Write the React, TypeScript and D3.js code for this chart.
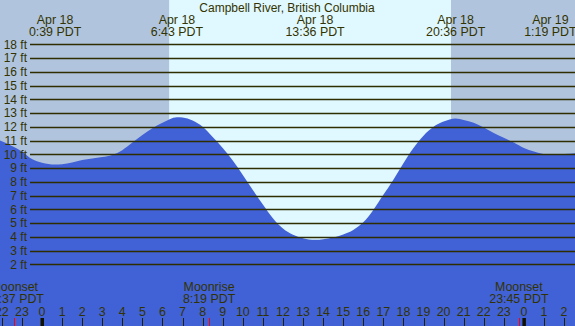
import React from "react";
import * as d3 from "d3";

const W = 575;
const H = 326;

// hours from Apr 18 00:00 PDT
const tideHours = [-2.1, -1.5, -1, -0.5, 0, 0.65, 1, 1.5, 2, 2.5, 3, 3.5, 4, 4.5, 5, 5.5, 6, 6.72, 7, 7.5, 8, 8.5, 9, 9.5, 10, 10.5, 11, 11.5, 12, 12.5, 13, 13.6, 14, 14.5, 15, 15.5, 16, 16.5, 17, 17.5, 18, 18.5, 19, 19.5, 20, 20.6, 21, 21.5, 22, 22.5, 23, 23.5, 24, 24.5, 25.32, 26, 26.7];
const tideFeet = [11.0, 10.6, 10.2, 9.65, 9.38, 9.25, 9.28, 9.4, 9.58, 9.7, 9.8, 9.95, 10.3, 10.85, 11.4, 11.9, 12.3, 12.7, 12.68, 12.45, 12.0, 11.25, 10.45, 9.55, 8.5, 7.4, 6.35, 5.35, 4.6, 4.15, 3.9, 3.78, 3.82, 3.95, 4.17, 4.5, 5.05, 5.95, 7.05, 8.15, 9.35, 10.45, 11.35, 12.0, 12.38, 12.6, 12.5, 12.3, 11.95, 11.55, 11.2, 10.85, 10.45, 10.2, 9.97, 10.02, 10.1];

const feetTicks = [2, 3, 4, 5, 6, 7, 8, 9, 10, 11, 12, 13, 14, 15, 16, 17, 18];
const hourTicks = d3.range(-2, 27);

const sunrise = 6.33;
const sunset = 20.37;

const topLabelHours = [0.65, 6.72, 13.6, 20.6, 25.32];
const topLabelDays = ["Apr 18", "Apr 18", "Apr 18", "Apr 18", "Apr 19"];
const topLabelTimes = ["0:39 PDT", "6:43 PDT", "13:36 PDT", "20:36 PDT", "1:19 PDT"];

const moonHours = [-1.38, 8.32, 23.75];
const moonNames = ["Moonset", "Moonrise", "Moonset"];
const moonTimes = ["22:37 PDT", "8:19 PDT", "23:45 PDT"];

const title = "Campbell River, British Columbia";

const TEXT = "#333300";
const FONT = "'Liberation Sans', Arial, sans-serif";

export default function App() {
  const x = d3.scaleLinear().domain([0, 24]).range([42, 523.9]);
  const y = d3.scaleLinear().domain([2, 18]).range([264.3, 44.3]);
  const pts: [number, number][] = tideHours.map((h, i) => [h, tideFeet[i]]);
  const area = d3
    .area<[number, number]>()
    .x((d) => x(d[0]))
    .y0(H)
    .y1((d) => y(d[1]))
    .curve(d3.curveMonotoneX);

  const hourLabel = (h: number) => String(((h % 24) + 24) % 24);

  return (
    <svg
      width={W}
      height={H}
      style={{ position: "absolute", left: 0, top: 0, display: "block" }}
      fontFamily={FONT}
    >
      <rect x={0} y={0} width={W} height={H} fill="#b0c4de" />
      <rect x={x(sunrise)} y={0} width={x(sunset) - x(sunrise)} height={H} fill="#e0f8ff" />
      <path d={area(pts) || ""} fill="#4161d6" />
      {feetTicks.map((f) => (
        <g key={f}>
          <line x1={30} x2={W} y1={Math.round(y(f)) + 0.5} y2={Math.round(y(f)) + 0.5} stroke="#2e2e00" strokeWidth={1.3} />
          <text x={27} y={y(f) + 4.3} textAnchor="end" fontSize={12} fill={TEXT}>
            {f} ft
          </text>
        </g>
      ))}
      <text x={287} y={11.7} textAnchor="middle" fontSize={12} fill={TEXT}>
        {title}
      </text>
      {topLabelHours.map((h, i) => (
        <g key={i}>
          <text x={x(h)} y={23.5} textAnchor="middle" fontSize={12.4} fill={TEXT}>
            {topLabelDays[i]}
          </text>
          <text x={x(h)} y={35.5} textAnchor="middle" fontSize={12.4} fill={TEXT}>
            {topLabelTimes[i]}
          </text>
        </g>
      ))}
      {moonHours.map((h, i) => (
        <g key={i}>
          <text x={x(h)} y={291} textAnchor="middle" fontSize={12.4} fill={TEXT}>
            {moonNames[i]}
          </text>
          <text x={x(h)} y={303.3} textAnchor="middle" fontSize={12.4} fill={TEXT}>
            {moonTimes[i]}
          </text>
          <line x1={Math.round(x(h)) + 0.5} x2={Math.round(x(h)) + 0.5} y1={318} y2={H} stroke="#ff0000" strokeWidth={1} />
        </g>
      ))}
      {hourTicks.map((h) => (
        <g key={h}>
          <text x={x(h)} y={316} textAnchor="middle" fontSize={12.4} fill={TEXT}>
            {hourLabel(h)}
          </text>
          {h % 24 === 0 ? (
            <rect x={x(h) - 1.5} y={318} width={3.5} height={H - 318} fill="#111100" />
          ) : (
            <line x1={Math.round(x(h)) + 0.5} x2={Math.round(x(h)) + 0.5} y1={318} y2={H} stroke="#222200" strokeWidth={1} />
          )}
        </g>
      ))}
    </svg>
  );
}
